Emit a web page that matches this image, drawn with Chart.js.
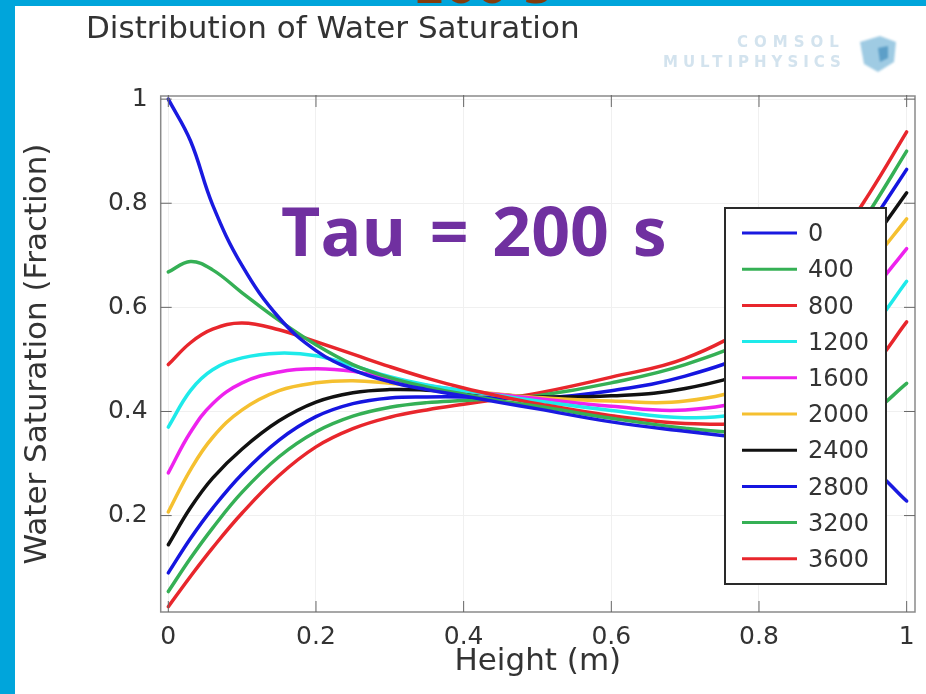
<!DOCTYPE html>
<html><head><meta charset="utf-8">
<script src="https://cdn.jsdelivr.net/npm/chart.js@4/dist/chart.umd.min.js"></script>
<style>
html,body{margin:0;padding:0;background:#fff;overflow:hidden}
#wrap{position:relative;width:926px;height:694px;overflow:hidden;background:#fff}
#top{position:absolute;left:0;top:0;width:926px;height:6px;background:#00a5db}
#side{position:absolute;left:0;top:0;width:15px;height:694px;background:#00a5db}
#cut{position:absolute;left:414px;top:-37px;font:bold 45px "DejaVu Sans";color:#843c0c;line-height:50px;white-space:nowrap}
canvas{position:absolute;left:0;top:0;filter:blur(0.5px)}
#title{position:absolute;left:86px;top:8px;font:31px "DejaVu Sans";color:#333;white-space:nowrap;line-height:38px;filter:blur(0.4px)}
#tau{position:absolute;left:281px;top:190px;font:bold 68px "Open Sans";color:#7030a0;white-space:nowrap;line-height:80px;word-spacing:6px}
.logo{position:absolute;font:bold 15px "DejaVu Sans";color:#d3e3ee;white-space:nowrap;filter:blur(0.6px)}
#cube{position:absolute;left:856px;top:34px;filter:blur(1px)}
</style></head><body>
<div id="wrap">
<canvas id="c" width="926" height="694"></canvas>
<div id="top"></div><div id="side"></div>
<div id="cut">200 s</div>
<div id="title">Distribution of Water Saturation</div>
<div class="logo" style="left:737px;top:33px;letter-spacing:6px">COMSOL</div>
<div class="logo" style="left:663px;top:53px;letter-spacing:5px">MULTIPHYSICS</div>
<svg id="cube" width="44" height="40"><polygon points="4,8 24,2 40,8 38,28 22,38 8,30" fill="#9fcbe3"/><polygon points="22,14 32,12 32,24 24,28" fill="#5d9fc8"/></svg>
<div id="tau">Tau = 200 s</div>
</div>
<script>
const heights=[0,.03,.06,.1,.15,.2,.25,.3,.35,.4,.45,.5,.6,.7,.8,.85,.9,.95,1];
const times=['0','400','800','1200','1600','2000','2400','2800','3200','3600'];
const colors=['#1a1ae0','#35b055','#e8262c','#1eeaea','#ee22ee','#f5c030','#111111','#1515e0','#35b055','#e8262c'];
const s0=[1.0,.92,.797,.68,.58,.517,.48,.457,.442,.43,.417,.405,.38,.362,.346,.337,.322,.293,.228];
const s400=[.668,.688,.672,.628,.575,.528,.49,.465,.447,.433,.42,.41,.387,.368,.357,.361,.373,.396,.454];
const s800=[.49,.532,.558,.57,.557,.534,.51,.486,.464,.445,.429,.415,.392,.377,.38,.398,.43,.48,.572];
const s1200=[.37,.44,.48,.503,.512,.507,.488,.467,.451,.44,.43,.42,.402,.388,.403,.435,.487,.555,.65];
const s1600=[.282,.36,.415,.455,.476,.482,.477,.463,.45,.44,.432,.425,.41,.403,.43,.478,.545,.625,.713];
const s2000=[.207,.288,.35,.403,.44,.455,.459,.454,.447,.44,.433,.427,.42,.42,.455,.505,.585,.68,.77];
const s2400=[.144,.215,.272,.328,.382,.418,.436,.442,.441,.437,.432,.428,.43,.444,.485,.535,.62,.72,.82];
const s2800=[.09,.156,.214,.28,.345,.39,.415,.426,.428,.428,.426,.425,.44,.468,.52,.572,.65,.757,.865];
const s3200=[.054,.118,.176,.245,.313,.361,.391,.408,.417,.421,.425,.43,.455,.49,.547,.598,.68,.785,.9];
const s3600=[.025,.083,.138,.205,.277,.332,.367,.389,.403,.414,.424,.435,.466,.502,.575,.632,.715,.82,.937];
const allSeries=[s0,s400,s800,s1200,s1600,s2000,s2400,s2800,s3200,s3600];
const xTicks=[0,.2,.4,.6,.8,1];
const yTicks=[.2,.4,.6,.8,1];
const xTitle='Height (m)';
const yTitle='Water Saturation (Fraction)';

const framePlugin={id:'frame',
 afterDatasetsDraw(ch){
  const g=ch.ctx,a=ch.chartArea,X=ch.scales.x,Y=ch.scales.y;
  g.save();
  g.strokeStyle='#8a8a8a';g.lineWidth=1.5;
  g.strokeRect(a.left,a.top,a.right-a.left,a.bottom-a.top);
  g.strokeStyle='#666';g.lineWidth=1;g.beginPath();
  xTicks.forEach(v=>{const p=X.getPixelForValue(v);g.moveTo(p,a.top-1);g.lineTo(p,a.top+11);g.moveTo(p,a.bottom);g.lineTo(p,a.bottom-11);});
  yTicks.forEach(v=>{const p=Y.getPixelForValue(v);g.moveTo(a.left,p);g.lineTo(a.left+11,p);g.moveTo(a.right,p);g.lineTo(a.right-11,p);});
  g.stroke();
  const L=725,T=208,R=886,B=584;
  g.fillStyle='#fff';g.fillRect(L,T,R-L,B-T);
  g.strokeStyle='#2a2a2a';g.lineWidth=2;g.strokeRect(L,T,R-L,B-T);
  g.font='24px "DejaVu Sans"';g.textBaseline='middle';g.textAlign='left';
  ch.data.datasets.forEach((d,i)=>{
   const y=233+i*36.2;
   g.strokeStyle=d.borderColor;g.lineWidth=3;g.beginPath();g.moveTo(742,y);g.lineTo(797,y);g.stroke();
   g.fillStyle='#333';g.fillText(d.label,808,y+2);
  });
  g.restore();
 }};

new Chart(document.getElementById('c'),{
 type:'scatter',
 data:{datasets:allSeries.map((s,i)=>({
   label:times[i],
   data:s.map((v,j)=>({x:heights[j],y:v})),
   showLine:true,borderColor:colors[i],backgroundColor:colors[i],
   borderWidth:3.5,pointRadius:0,tension:0.4,borderCapStyle:'round',borderJoinStyle:'round'
 }))},
 plugins:[framePlugin],
 options:{
  responsive:false,animation:false,
  layout:{padding:{top:96,right:11,left:0,bottom:0}},
  plugins:{legend:{display:false},title:{display:false},tooltip:{enabled:false}},
  scales:{
   x:{type:'linear',min:-0.0103,max:1.0113,
    afterBuildTicks:s=>{s.ticks=xTicks.map(v=>({value:v}));},
    afterFit:s=>{s.height=82;},
    ticks:{callback:v=>String(v),font:{family:'DejaVu Sans',size:25},color:'#333',padding:10,maxRotation:0,autoSkip:false},
    grid:{color:'#f0f0f0',lineWidth:1,drawTicks:false},
    border:{display:false},
    title:{display:true,text:xTitle,font:{family:'DejaVu Sans',size:31},color:'#333',padding:{top:0,bottom:13}}
   },
   y:{type:'linear',min:0.0148,max:1.006,
    afterBuildTicks:s=>{s.ticks=yTicks.map(v=>({value:v}));},
    afterFit:s=>{s.width=160.7;},
    ticks:{callback:v=>String(v),font:{family:'DejaVu Sans',size:25},color:'#333',padding:13,autoSkip:false},
    grid:{color:'#f0f0f0',lineWidth:1,drawTicks:false},
    border:{display:false},
    title:{display:true,text:yTitle,font:{family:'DejaVu Sans',size:31},color:'#333',padding:{top:19,bottom:0}}
   }
  }
 }
});
</script>
</body></html>
